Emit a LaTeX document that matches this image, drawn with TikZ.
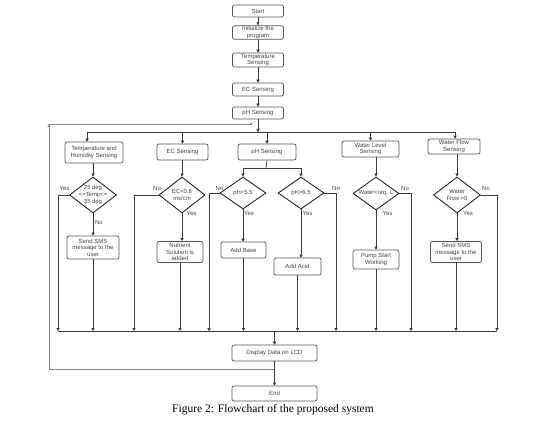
\documentclass[tikz,border=0pt]{standalone}
\usepackage{fontspec}
\setmainfont{Liberation Sans}
\newfontfamily\capfont{Liberation Serif}
\usetikzlibrary{shapes.geometric,arrows.meta}
\definecolor{boxc}{HTML}{555555}
\definecolor{linec}{HTML}{3A3A3A}
\definecolor{loopc}{HTML}{8A8A8A}
\definecolor{txtc}{HTML}{444444}
\begin{document}
\begin{tikzpicture}[x=1pt,y=-1pt,
  box/.style={draw=boxc, rounded corners=2pt, line width=0.7pt, inner sep=0pt, align=center, font=\fontsize{6}{6.6}\selectfont, text=txtc},
  dia/.style={draw=black!85, diamond, line width=0.9pt, inner sep=0pt},
  dtext/.style={align=center, font=\fontsize{5.9}{6.6}\selectfont, text=txtc, inner sep=0pt},
  lab/.style={font=\fontsize{6}{7}\selectfont, text=txtc, inner sep=0pt},
  ln/.style={draw=linec, line width=0.7pt},
  arr/.style={ln, -{Triangle[length=3pt,width=3.2pt]}},
  loopln/.style={draw=loopc, line width=0.9pt, -{Triangle[length=3pt,width=3.2pt]}}
]
\useasboundingbox[fill=white] (0,0) rectangle (553,422);

% main chain
\node[box, minimum width=51pt, minimum height=12pt] (start) at (258,11) {Start};
\node[box, minimum width=51pt, minimum height=13.5pt] (init) at (258,32.5) {Initialize the\\program};
\node[box, minimum width=51pt, minimum height=14pt] (tsense) at (258,60) {Temperature\\Sensing};
\node[box, minimum width=51pt, minimum height=13pt] (ecs) at (258,89.5) {EC Sensing};
\node[box, minimum width=51pt, minimum height=12pt] (phs) at (258,113) {pH Sensing};
\draw[arr] (start) -- (init);
\draw[arr] (init) -- (tsense);
\draw[arr] (tsense) -- (ecs);
\draw[arr] (ecs) -- (phs);

% sensing boxes
\node[box, minimum width=58pt, minimum height=21pt] (th) at (94,152.5) {Temperature and\\Humidity Sensing};
\node[box, minimum width=51pt, minimum height=16pt] (ec) at (182.5,152) {EC Sensing};
\node[box, minimum width=58pt, minimum height=16pt] (ph) at (267,152) {pH Sensing};
\node[box, minimum width=57pt, minimum height=16pt] (wl) at (370.5,149) {Water Level\\Sensing};
\node[box, minimum width=52pt, minimum height=15pt] (wf) at (454,146.5) {Water Flow\\Sensing};

% top bus
\coordinate (tb) at (258,132);
\coordinate (tbL) at (87,132);
\coordinate (tbR) at (455,132);
\draw[arr] (phs) -- (tb);
\draw[ln] (tbL) -- (tbR);
\draw[arr] (tbL) -- (tbL |- th.north);
\draw[arr] (ec.north |- tb) -- (ec.north);
\draw[arr] (ph.north |- tb) -- (ph.north);
\draw[arr] (wl.north |- tb) -- (wl.north);
\draw[arr] (tbR) -- (tbR |- wf.north);

% loop back
\coordinate (lp1) at (275,369);
\coordinate (lp2) at (49,369);
\coordinate (lp3) at (49,124);
\coordinate (lp4) at (253,124);
\draw[loopln] (lp1) -- (lp2) -- (lp3);
\draw[loopln] (lp3) -- (lp4);

% decisions
\node[dia, minimum width=47pt, minimum height=36pt] (d1) at (93,195) {};
\node[dtext] (d1t) at (d1) {25 deg\\<=Temp<=\\35 deg};
\node[dia, minimum width=46pt, minimum height=36pt] (d2) at (182,195) {};
\node[dtext] (d2t) at (d2) {EC<0.8\\ms/cm};
\node[dia, minimum width=46pt, minimum height=32pt] (d3) at (243,193) {};
\node[dtext] (d3t) at (d3) {pH<5.5};
\node[dia, minimum width=46pt, minimum height=32pt] (d4) at (301,193) {};
\node[dtext] (d4t) at (d4) {pH>6.5};
\node[dia, minimum width=46pt, minimum height=33pt] (d5) at (376,193.5) {};
\node[dtext] (d5t) at (d5) {Water<req. L};
\node[dia, minimum width=47pt, minimum height=36pt] (d6) at (457,195) {};
\node[dtext] (d6t) at (d6) {Water\\Flow =0};

% ph split
\coordinate (pj) at (266,168);
\draw[ln] (ph.south) -- (pj);
\draw[ln] (d3.north |- pj) -- (d4.north |- pj);
\draw[arr] (d3.north |- pj) -- (d3.north);
\draw[arr] (d4.north |- pj) -- (d4.north);

% sensing to decisions
\draw[arr] (th.south -| d1.north) -- (d1.north);
\draw[arr] (ec.south -| d2.north) -- (d2.north);
\draw[arr] (wl.south -| d5.north) -- (d5.north);
\draw[arr] (wf.south -| d6.north) -- (d6.north);

% actions
\node[box, minimum width=52pt, minimum height=23pt] (sms1) at (93,247.5) {Send SMS\\message to the\\user};
\node[box, minimum width=46pt, minimum height=21pt] (nut) at (180,252) {Nutrient\\Solution is\\added};
\node[box, minimum width=45pt, minimum height=16pt] (base) at (243.5,250) {Add Base};
\node[box, minimum width=47pt, minimum height=17pt] (acid) at (297.5,266.5) {Add Acid};
\node[box, minimum width=46pt, minimum height=19pt] (pump) at (376,259.5) {Pump Start\\Working};
\node[box, minimum width=51pt, minimum height=21pt] (sms2) at (456,252) {Send SMS\\message to the\\user};

\draw[arr] (d1.south) -- (d1.south |- sms1.north);
\draw[arr] (d2.south) -- (d2.south |- nut.north);
\draw[arr] (d3.south) -- (d3.south |- base.north);
\draw[arr] (d4.south) -- (d4.south |- acid.north);
\draw[arr] (d5.south) -- (d5.south |- pump.north);
\draw[arr] (d6.south) -- (d6.south |- sms2.north);

% labels
\node[lab] (l1y) at (64.5,188) {Yes};
\node[lab] (l1n) at (99,222) {No};
\node[lab] (l2n) at (157,188) {No};
\node[lab] (l2y) at (191.5,213) {Yes};
\node[lab] (l3n) at (219.5,188) {No};
\node[lab] (l3y) at (249,213) {Yes};
\node[lab] (l4n) at (336,188) {No};
\node[lab] (l4y) at (307.5,213) {Yes};
\node[lab] (l5n) at (405,188) {No};
\node[lab] (l5y) at (387.5,213) {Yes};
\node[lab] (l6n) at (486,188) {No};
\node[lab] (l6y) at (468,213) {Yes};

% bottom bus
\coordinate (bL) at (58,331);
\coordinate (bR) at (497,331);
\coordinate (e2) at (134,331);
\coordinate (e3) at (209,331);
\coordinate (e4) at (336,331);
\coordinate (e5) at (411,331);
\draw[ln] (bL) -- (bR);
\draw[arr] (d1.west) -| (bL);
\draw[arr] (d2.west) -| (e2);
\draw[arr] (d3.west) -| (e3);
\draw[arr] (d4.east) -| (e4);
\draw[arr] (d5.east) -| (e5);
\draw[arr] (d6.east) -| (bR);
\draw[arr] (sms1.south) -- (sms1.south |- bL);
\draw[arr] (nut.south) -- (nut.south |- bL);
\draw[arr] (base.south) -- (base.south |- bL);
\draw[arr] (acid.south) -- (acid.south |- bL);
\draw[arr] (pump.south) -- (pump.south |- bL);
\draw[arr] (sms2.south) -- (sms2.south |- bL);

% display and end
\node[box, minimum width=85pt, minimum height=16pt] (disp) at (274.5,353) {Display Data on LCD};
\node[box, minimum width=85pt, minimum height=15pt] (end) at (274.5,393.5) {End};
\draw[arr] (disp.north |- bL) -- (disp.north);
\draw[arr] (disp) -- (end);

\node[font=\capfont\fontsize{11.5}{13}\selectfont, inner sep=0pt] (cap) at (273,410) {Figure 2: Flowchart of the proposed system};
\end{tikzpicture}
\end{document}
